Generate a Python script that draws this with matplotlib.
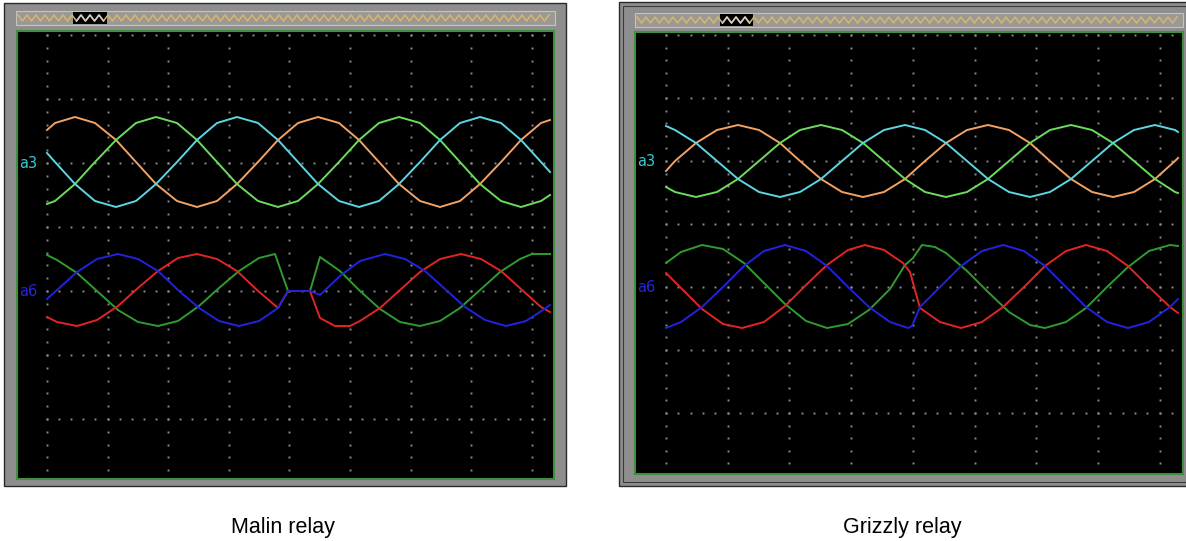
"""
plot.py - two relay scope captures (Malin / Grizzly) side by side.
Trace values are screen samples read off the captures.
"""

import numpy as np
import matplotlib
matplotlib.use("Agg")
import matplotlib.pyplot as plt
from matplotlib.patches import Rectangle

W, H = 1186, 541

# --- Malin relay: upper group (a3) -------------------------------------------
malin_up_x = [47, 55, 75, 95, 116, 136, 156, 177, 197, 217, 237, 258, 278, 298,
              318, 339, 359, 379, 399, 420, 440, 460, 480, 501, 521, 541, 550]
malin_orange = [130, 123, 117, 123, 140, 162, 184, 201, 207, 201, 184, 162, 140, 123,
                117, 123, 140, 162, 184, 201, 207, 201, 184, 162, 140, 123, 120]
malin_lime = [204, 201, 184, 162, 140, 123, 117, 123, 140, 162, 184, 201, 207, 201,
              184, 162, 140, 123, 117, 123, 140, 162, 184, 201, 207, 201, 195]
malin_cyan = [153, 162, 184, 201, 207, 201, 184, 162, 140, 123, 117, 123, 140, 162,
              184, 201, 207, 201, 184, 162, 140, 123, 117, 123, 140, 162, 172]

# --- Malin relay: lower group (a6) -------------------------------------------
malin_blue_x = [47, 57, 77, 97, 118, 138, 158, 178, 199, 219, 239, 259, 278, 288,
                310, 320, 340, 360, 385, 405, 425, 445, 465, 485, 506, 526, 546, 550]
malin_blue = [299, 290, 272, 259, 254, 259, 271, 290, 308, 321, 326, 321, 308, 291,
              291, 295, 276, 261, 254, 259, 271, 289, 307, 320, 326, 321, 308, 305]
malin_red_x = [47, 57, 77, 97, 118, 138, 158, 178, 197, 217, 237, 257, 278, 288, 310,
               320, 335, 350, 360, 380, 400, 420, 440, 461, 481, 501, 521, 541, 550]
malin_red = [317, 322, 326, 320, 306, 288, 271, 258, 254, 259, 271, 290, 308, 291, 291,
             318, 326, 326, 321, 308, 290, 272, 259, 254, 259, 271, 289, 307, 312]
malin_green_x = [47, 57, 77, 97, 118, 138, 158, 178, 199, 219, 239, 259, 275, 288,
                 310, 320, 340, 360, 380, 400, 420, 440, 460, 480, 500, 520, 532, 550]
malin_green = [255, 260, 273, 291, 310, 322, 326, 321, 306, 288, 271, 258, 254, 291,
               291, 257, 271, 291, 309, 322, 326, 321, 308, 290, 272, 259, 254, 254]

# --- Grizzly relay: upper group (a3) -----------------------------------------
grizzly_up_x = [666, 675, 696, 717, 738, 759, 780, 800, 821, 842, 863, 884, 905, 925,
                946, 967, 988, 1009, 1030, 1050, 1071, 1092, 1113, 1134, 1155, 1175, 1178]
grizzly_orange = [171, 161, 143, 130, 125, 130, 143, 161, 179, 192, 197, 192, 179, 161,
                  143, 130, 125, 130, 143, 161, 179, 192, 197, 192, 179, 161, 158]
grizzly_cyan = [126, 130, 143, 161, 179, 192, 197, 192, 179, 161, 143, 130, 125, 130,
                143, 161, 179, 192, 197, 192, 179, 161, 143, 130, 125, 130, 132]
grizzly_lime = [187, 192, 197, 192, 179, 161, 143, 130, 125, 130, 143, 161, 179, 192,
                197, 192, 179, 161, 143, 130, 125, 130, 143, 161, 179, 192, 193]

# --- Grizzly relay: lower group (a6) -----------------------------------------
grizzly_blue_x = [666, 681, 702, 723, 744, 764, 785, 806, 827, 848, 869, 890, 908, 912,
                  920, 940, 961, 982, 1003, 1024, 1045, 1066, 1086, 1107, 1128, 1149, 1170, 1178]
grizzly_blue = [328, 322, 307, 287, 266, 251, 245, 251, 266, 287, 307, 322, 328, 326,
                307, 287, 266, 251, 245, 251, 266, 287, 307, 322, 328, 322, 307, 299]
grizzly_red_x = [666, 681, 702, 723, 742, 764, 785, 806, 827, 848, 865, 884, 903, 910,
                 920, 940, 961, 982, 1003, 1024, 1045, 1066, 1086, 1107, 1128, 1149, 1170, 1178]
grizzly_red = [273, 288, 309, 324, 328, 322, 306, 285, 265, 250, 245, 250, 263, 272,
               308, 322, 328, 322, 307, 287, 266, 251, 245, 251, 266, 287, 307, 313]
grizzly_green_x = [666, 681, 702, 723, 744, 764, 785, 806, 827, 848, 869, 890, 905, 913, 922,
                   935, 946, 967, 988, 1009, 1030, 1045, 1066, 1086, 1107, 1128, 1149, 1170, 1178]
grizzly_green = [263, 252, 245, 249, 263, 283, 304, 321, 328, 324, 310, 289, 265, 258, 245,
                 247, 253, 271, 292, 312, 325, 328, 322, 308, 287, 267, 251, 245, 246]

captions = ["Malin relay", "Grizzly relay"]

C_ORANGE, C_LIME, C_CYAN = "#f3a263", "#6cdc5c", "#5cd6e2"
C_BLUE, C_RED, C_GREEN = "#2222e0", "#e22424", "#2f9c2f"

fig = plt.figure(figsize=(W / 100, H / 100), dpi=100)
fig.patch.set_facecolor("white")
bg = fig.add_axes([0, 0, 1, 1])
bg.set_xlim(0, W); bg.set_ylim(H, 0); bg.axis("off")


def panel(frame, plot, strip, mark, x0, dx, y0, dy, dot_end, label_x, double=False):
    fx0, fy0, fx1, fy1 = frame
    bg.add_patch(Rectangle((fx0, fy0), fx1 - fx0, fy1 - fy0, fc="#8e8e8e",
                           ec="#2a2a2a", lw=1.0, zorder=1))
    if double:
        bg.add_patch(Rectangle((fx0 + 4, fy0 + 4), fx1 - fx0 - 8, fy1 - fy0 - 8,
                               fc="none", ec="#3a3a3a", lw=0.8, zorder=1))
    sx0, sy0, sx1, sy1 = strip
    bg.add_patch(Rectangle((sx0, sy0), sx1 - sx0, sy1 - sy0, fc="#9c9994",
                           ec="#c4c4c4", lw=0.8, zorder=2))
    bg.add_patch(Rectangle((mark[0], sy0 + 1), mark[1] - mark[0], sy1 - sy0 - 2,
                           fc="black", ec="none", zorder=3))
    zx = np.arange(sx0 + 2, sx1 - 2, 4.5)
    zy = np.where(np.arange(len(zx)) % 2 == 0, (sy0 + sy1) / 2 - 3, (sy0 + sy1) / 2 + 3)
    bg.plot(zx, zy, color="#d6b672", lw=1.1, zorder=4)
    inside = (zx >= mark[0]) & (zx <= mark[1])
    bg.plot(zx[inside], zy[inside], color="#cfcfcf", lw=1.1, zorder=5)

    px0, py0, px1, py1 = plot
    ax = fig.add_axes([px0 / W, 1 - py1 / H, (px1 - px0) / W, (py1 - py0) / H])
    ax.set_facecolor("black")
    ax.set_xlim(px0, px1); ax.set_ylim(py1, py0)
    ax.set_xticks([]); ax.set_yticks([])
    for s in ax.spines.values():
        s.set_color("#3f8f3f"); s.set_linewidth(1.5)

    cols = x0 + dx * np.arange(9)
    rows = y0 + dy * np.arange(7)
    rows = rows[rows < py1 - 3]
    ys = np.arange(y0, py1 - 4, dy / 5)
    for c in cols:
        ax.plot(np.full_like(ys, c), ys, ls="none", marker="s", ms=1.4,
                mec="none", mfc="#8c8c8c")
    xs = np.arange(x0, dot_end + 1, dx / 5)
    for r in rows:
        ax.plot(xs, np.full_like(xs, r), ls="none", marker="s", ms=1.4,
                mec="none", mfc="#8c8c8c")
    # channel tags sit on top of the scope area
    fig.text(label_x, y0 + 2 * dy, "a3", color="#39c8d6", fontsize=10.5,
             va="center", ha="left", transform=bg.transData, zorder=10)
    fig.text(label_x, y0 + 4 * dy, "a6", color="#2626d8", fontsize=10.5,
             va="center", ha="left", transform=bg.transData, zorder=10)
    return ax


axL = panel((4, 3, 566, 486), (17, 31, 554, 479), (16, 11, 555, 25), (73, 107),
            47, 60.6, 35, 64, 544, 19)
axR = panel((619, 2, 1190, 486), (635, 32, 1183, 474), (635, 13, 1183, 27), (720, 753),
            666, 61.7, 35, 63, 1172, 637, double=True)

lw = 1.4
axL.plot(malin_up_x, malin_orange, color=C_ORANGE, lw=lw)
axL.plot(malin_up_x, malin_lime, color=C_LIME, lw=lw)
axL.plot(malin_up_x, malin_cyan, color=C_CYAN, lw=lw)
axL.plot(malin_green_x, malin_green, color=C_GREEN, lw=lw)
axL.plot(malin_red_x, malin_red, color=C_RED, lw=lw)
axL.plot(malin_blue_x, malin_blue, color=C_BLUE, lw=lw)

axR.plot(grizzly_up_x, grizzly_orange, color=C_ORANGE, lw=lw)
axR.plot(grizzly_up_x, grizzly_lime, color=C_LIME, lw=lw)
axR.plot(grizzly_up_x, grizzly_cyan, color=C_CYAN, lw=lw)
axR.plot(grizzly_green_x, grizzly_green, color=C_GREEN, lw=lw)
axR.plot(grizzly_red_x, grizzly_red, color=C_RED, lw=lw)
axR.plot(grizzly_blue_x, grizzly_blue, color=C_BLUE, lw=lw)

for cx, txt in zip([283, 902], captions):
    bg.text(cx, 527, txt, ha="center", va="center", fontsize=15.5,
            family="Liberation Sans", color="black")

fig.savefig("out.png", dpi=100, facecolor="white")
plt.close(fig)
